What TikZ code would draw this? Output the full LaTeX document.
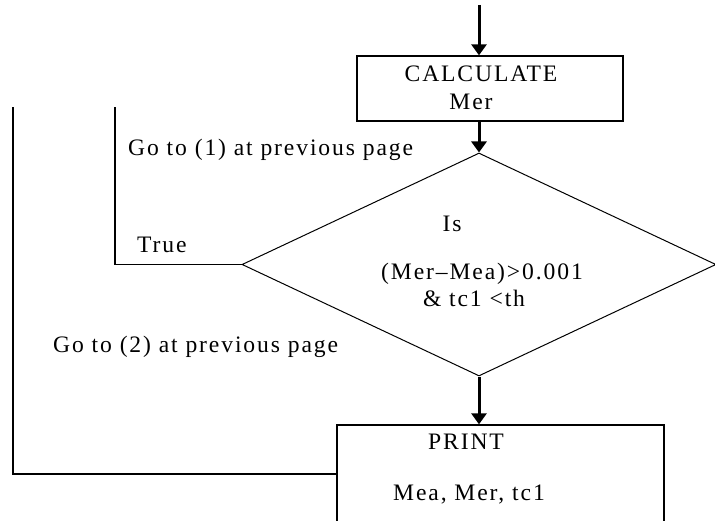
\documentclass[tikz,border=0pt]{standalone}
\usepackage{fontspec}
\setmainfont{Liberation Serif}[LetterSpace=8]
\usetikzlibrary{shapes.geometric,arrows.meta}
\begin{document}
\begin{tikzpicture}[x=1pt,y=-1pt,
  every node/.style={font=\fontsize{23.6}{28}\selectfont, inner sep=0pt},
  procbox/.style={draw, line width=1.3pt, rectangle},
  decbox/.style={draw, line width=1pt, diamond},
  flowarr/.style={line width=3pt, -{Triangle[width=15pt,length=11pt]}},
  loopline/.style={line width=1.4pt},
  lbl/.style={anchor=west}]
\useasboundingbox (0,0) rectangle (715,521);
% boxes
\node[procbox, minimum width=266pt, minimum height=65pt] (cbox) at (490,88.5) {};
\node (t1) at (481,74) {CALCULATE};
\node (t2) at (471,102) {Mer};
\node[decbox, minimum width=474pt, minimum height=223pt] (dia) at (479,264.5) {};
\node (d1) at (452,224) {Is};
\node (d2) at (482,274) {(Mer–Mea)>0.001};
\node (d3) at (474,298) {\& tc1 <th};
\node[procbox, minimum width=327pt, minimum height=98pt] (pbox) at (500.5,474) {};
\node (p1) at (466,442) {PRINT};
\node (p2) at (469,495) {Mea, Mer, tc1};
% labels
\node[lbl] (g1) at (128,150) {Go to (1) at previous page};
\node[lbl] (tr) at (137,245) {True};
\node[lbl] (g2) at (53,347) {Go to (2) at previous page};
% coordinates
\coordinate (start) at (479,5);
\coordinate (e1) at (115,107);
\coordinate (e2) at (13,107);
% arrows
\draw[flowarr] (start) -- (start |- cbox.north);
\draw[flowarr] (cbox.south -| dia.north) -- (dia.north);
\draw[flowarr] (dia.south) -- (dia.south |- pbox.north);
% loop lines
\draw[loopline] (dia.west) -| (e1);
\draw[loopline] (pbox.west) -| (e2);
\end{tikzpicture}
\end{document}
